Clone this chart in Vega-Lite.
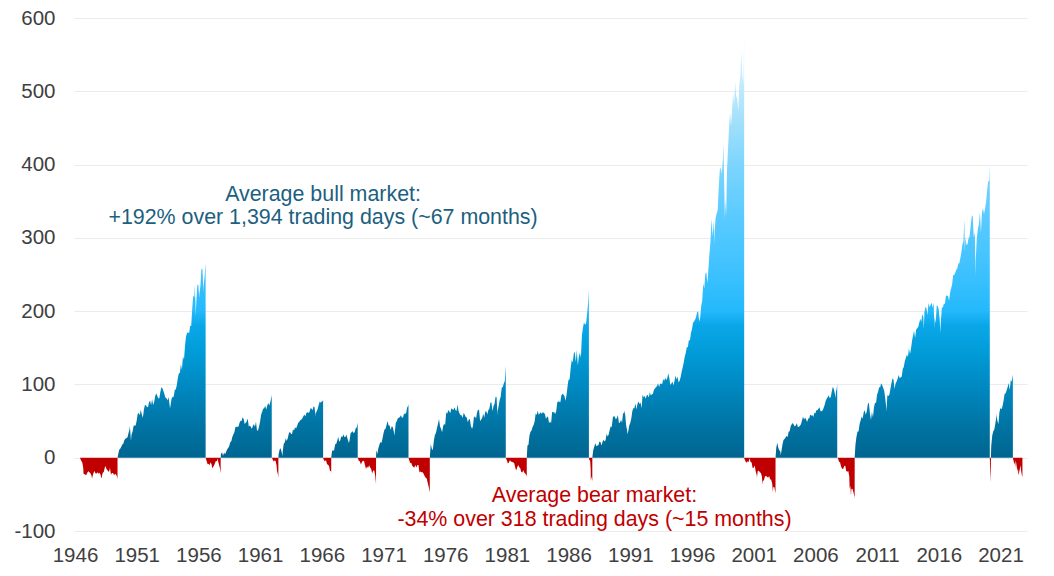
{
"$schema": "https://vega.github.io/schema/vega-lite/v6.json",
"width": 953,
"height": 513,
"autosize": {"type": "none"},
"padding": {"left": 74, "top": 18, "right": 27, "bottom": 45},
"background": "white",
"config": {"view": {"stroke": null}, "font": "Liberation Sans"},
"datasets": {
"bull": [
{"year":1949.447,"pct":0},{"year":1949.5,"pct":4.5},{"year":1949.583,"pct":11},{"year":1949.667,"pct":12.3},{"year":1949.75,"pct":15},{"year":1949.833,"pct":18},{"year":1949.917,"pct":19},{"year":1949.997,"pct":23.7},
{"year":1950.083,"pct":25.8},{"year":1950.167,"pct":27},{"year":1950.25,"pct":27.6},{"year":1950.333,"pct":33.4},{"year":1950.417,"pct":38.6},{"year":1950.447,"pct":43.2},{"year":1950.537,"pct":23.1},{"year":1950.583,"pct":31.7},{"year":1950.667,"pct":35.9},{"year":1950.75,"pct":43.5},{"year":1950.833,"pct":44.1},{"year":1950.917,"pct":44},{"year":1950.997,"pct":50.6},
{"year":1951.083,"pct":59.9},{"year":1951.167,"pct":60.9},{"year":1951.25,"pct":57.9},{"year":1951.333,"pct":65.5},{"year":1951.417,"pct":58.8},{"year":1951.5,"pct":54.7},{"year":1951.583,"pct":65.3},{"year":1951.667,"pct":71.8},{"year":1951.75,"pct":71.7},{"year":1951.833,"pct":69.3},{"year":1951.917,"pct":68.9},{"year":1951.997,"pct":75.4},
{"year":1952.083,"pct":78.2},{"year":1952.167,"pct":71.7},{"year":1952.25,"pct":79.9},{"year":1952.333,"pct":72.1},{"year":1952.417,"pct":76.1},{"year":1952.5,"pct":84.2},{"year":1952.583,"pct":87.5},{"year":1952.667,"pct":84.7},{"year":1952.75,"pct":81.1},{"year":1952.833,"pct":81},{"year":1952.917,"pct":89.4},{"year":1952.997,"pct":96.1},
{"year":1953.083,"pct":94.7},{"year":1953.167,"pct":91.1},{"year":1953.25,"pct":86.6},{"year":1953.333,"pct":81.7},{"year":1953.417,"pct":81.1},{"year":1953.5,"pct":78.2},{"year":1953.583,"pct":82.7},{"year":1953.667,"pct":72.1},{"year":1953.705,"pct":67.6},{"year":1953.75,"pct":72.3},{"year":1953.833,"pct":81.1},{"year":1953.917,"pct":82.7},{"year":1953.997,"pct":83.1},
{"year":1954.083,"pct":92.5},{"year":1954.167,"pct":93},{"year":1954.25,"pct":98.8},{"year":1954.333,"pct":108.6},{"year":1954.417,"pct":115.4},{"year":1954.5,"pct":115.6},{"year":1954.583,"pct":127.9},{"year":1954.667,"pct":120.1},{"year":1954.75,"pct":138.5},{"year":1954.833,"pct":133.8},{"year":1954.917,"pct":152.7},{"year":1954.997,"pct":165.5},
{"year":1955.083,"pct":170.3},{"year":1955.167,"pct":171.3},{"year":1955.25,"pct":170},{"year":1955.333,"pct":180.1},{"year":1955.417,"pct":179.8},{"year":1955.5,"pct":202.8},{"year":1955.583,"pct":221.2},{"year":1955.667,"pct":218.7},{"year":1955.727,"pct":236.8},{"year":1955.735,"pct":214.5},{"year":1955.75,"pct":222.3},{"year":1955.78,"pct":193.7},{"year":1955.833,"pct":212.5},{"year":1955.917,"pct":235.9},{"year":1955.997,"pct":235.6},
{"year":1956.062,"pct":218},{"year":1956.083,"pct":223.4},{"year":1956.167,"pct":234.6},{"year":1956.25,"pct":257.8},{"year":1956.333,"pct":257},{"year":1956.405,"pct":225.5},{"year":1956.417,"pct":233.6},{"year":1956.5,"pct":246.6},{"year":1956.58,"pct":264.5},{"year":1956.586,"pct":267.1},{"year":1956.588,"pct":0},
{"year":1957.805,"pct":0},{"year":1957.833,"pct":5.3},{"year":1957.917,"pct":7},{"year":1957.997,"pct":2.6},
{"year":1958.083,"pct":7},{"year":1958.167,"pct":4.8},{"year":1958.25,"pct":8},{"year":1958.333,"pct":11.4},{"year":1958.417,"pct":13.1},{"year":1958.5,"pct":16.1},{"year":1958.583,"pct":21.1},{"year":1958.667,"pct":22.5},{"year":1958.75,"pct":28.4},{"year":1958.833,"pct":31.7},{"year":1958.917,"pct":34.6},{"year":1958.997,"pct":41.6},
{"year":1959.083,"pct":42.2},{"year":1959.167,"pct":42.2},{"year":1959.25,"pct":42.2},{"year":1959.333,"pct":47.7},{"year":1959.417,"pct":50.5},{"year":1959.5,"pct":50},{"year":1959.583,"pct":55.2},{"year":1959.667,"pct":52.9},{"year":1959.75,"pct":45.9},{"year":1959.833,"pct":47.6},{"year":1959.917,"pct":49.5},{"year":1959.997,"pct":53.6},
{"year":1960.083,"pct":42.7},{"year":1960.167,"pct":44},{"year":1960.25,"pct":42},{"year":1960.333,"pct":39.5},{"year":1960.417,"pct":43.2},{"year":1960.5,"pct":46},{"year":1960.583,"pct":42.4},{"year":1960.667,"pct":49},{"year":1960.75,"pct":37.3},{"year":1960.833,"pct":37},{"year":1960.917,"pct":42.5},{"year":1960.997,"pct":49.1},
{"year":1961.083,"pct":58.5},{"year":1961.167,"pct":62.8},{"year":1961.25,"pct":66.9},{"year":1961.333,"pct":67.5},{"year":1961.417,"pct":70.8},{"year":1961.5,"pct":65.8},{"year":1961.583,"pct":71.3},{"year":1961.667,"pct":74.6},{"year":1961.75,"pct":71.2},{"year":1961.833,"pct":76},{"year":1961.917,"pct":83},{"year":1961.945,"pct":86.4},{"year":1961.947,"pct":0},
{"year":1962.482,"pct":0},{"year":1962.5,"pct":4.6},{"year":1962.583,"pct":11.3},{"year":1962.667,"pct":13},{"year":1962.75,"pct":7.5},{"year":1962.813,"pct":2.2},{"year":1962.833,"pct":8},{"year":1962.917,"pct":19},{"year":1962.997,"pct":20.6},
{"year":1963.083,"pct":26.5},{"year":1963.167,"pct":22.9},{"year":1963.25,"pct":27.2},{"year":1963.333,"pct":33.4},{"year":1963.417,"pct":35.3},{"year":1963.5,"pct":32.6},{"year":1963.583,"pct":32.1},{"year":1963.667,"pct":38.6},{"year":1963.75,"pct":37},{"year":1963.833,"pct":41.5},{"year":1963.917,"pct":40},{"year":1963.997,"pct":43.4},
{"year":1964.083,"pct":47.2},{"year":1964.167,"pct":48.7},{"year":1964.25,"pct":51},{"year":1964.333,"pct":51.9},{"year":1964.417,"pct":53.6},{"year":1964.5,"pct":56.1},{"year":1964.583,"pct":59},{"year":1964.667,"pct":56.4},{"year":1964.75,"pct":60.9},{"year":1964.833,"pct":62.2},{"year":1964.917,"pct":61.4},{"year":1964.997,"pct":62},
{"year":1965.083,"pct":67.4},{"year":1965.167,"pct":67.1},{"year":1965.25,"pct":64.7},{"year":1965.333,"pct":70.3},{"year":1965.417,"pct":69},{"year":1965.49,"pct":56},{"year":1965.5,"pct":60.8},{"year":1965.583,"pct":62.9},{"year":1965.667,"pct":66.6},{"year":1965.75,"pct":71.9},{"year":1965.833,"pct":76.6},{"year":1965.917,"pct":75.1},{"year":1965.997,"pct":76.7},
{"year":1966.083,"pct":77.5},{"year":1966.107,"pct":79.8},{"year":1966.109,"pct":0},
{"year":1966.764,"pct":0},{"year":1966.833,"pct":9.6},{"year":1966.917,"pct":9.9},{"year":1966.997,"pct":9.7},
{"year":1967.083,"pct":18.3},{"year":1967.167,"pct":18.6},{"year":1967.25,"pct":23.2},{"year":1967.333,"pct":28.4},{"year":1967.417,"pct":21.7},{"year":1967.5,"pct":23.8},{"year":1967.583,"pct":29.4},{"year":1967.667,"pct":27.9},{"year":1967.75,"pct":32.1},{"year":1967.833,"pct":28.3},{"year":1967.917,"pct":28.4},{"year":1967.997,"pct":31.8},
{"year":1968.083,"pct":26},{"year":1968.167,"pct":22.1},{"year":1968.18,"pct":19.8},{"year":1968.25,"pct":23.2},{"year":1968.333,"pct":33.3},{"year":1968.417,"pct":34.8},{"year":1968.5,"pct":36},{"year":1968.583,"pct":33.5},{"year":1968.667,"pct":35},{"year":1968.75,"pct":40.3},{"year":1968.833,"pct":41.3},{"year":1968.912,"pct":48},{"year":1968.914,"pct":0},
{"year":1970.397,"pct":0},{"year":1970.417,"pct":10.5},{"year":1970.5,"pct":5},{"year":1970.583,"pct":12.6},{"year":1970.667,"pct":17.7},{"year":1970.75,"pct":21.5},{"year":1970.833,"pct":20.1},{"year":1970.917,"pct":25.8},{"year":1970.997,"pct":33},
{"year":1971.083,"pct":38.4},{"year":1971.167,"pct":39.6},{"year":1971.25,"pct":44.8},{"year":1971.333,"pct":50},{"year":1971.417,"pct":43.8},{"year":1971.5,"pct":43.9},{"year":1971.583,"pct":37.9},{"year":1971.667,"pct":42.9},{"year":1971.75,"pct":41.9},{"year":1971.833,"pct":36},{"year":1971.896,"pct":30.1},{"year":1971.917,"pct":35.6},{"year":1971.997,"pct":47.3},
{"year":1972.083,"pct":50},{"year":1972.167,"pct":53.8},{"year":1972.25,"pct":54.7},{"year":1972.333,"pct":55.4},{"year":1972.417,"pct":58.1},{"year":1972.5,"pct":54.6},{"year":1972.583,"pct":55},{"year":1972.667,"pct":60.3},{"year":1972.75,"pct":59.5},{"year":1972.833,"pct":61},{"year":1972.917,"pct":68.4},{"year":1972.997,"pct":70.4},
{"year":1973.027,"pct":73.5},{"year":1973.029,"pct":0},
{"year":1974.753,"pct":0},{"year":1974.833,"pct":18.7},{"year":1974.917,"pct":12.3},{"year":1974.997,"pct":10.1},
{"year":1975.083,"pct":23.6},{"year":1975.167,"pct":31},{"year":1975.25,"pct":33.8},{"year":1975.333,"pct":40.2},{"year":1975.417,"pct":46.4},{"year":1975.5,"pct":52.8},{"year":1975.583,"pct":42.5},{"year":1975.667,"pct":39.5},{"year":1975.75,"pct":34.7},{"year":1975.833,"pct":43},{"year":1975.917,"pct":46.5},{"year":1975.997,"pct":44.8},
{"year":1976.083,"pct":61.9},{"year":1976.167,"pct":60.1},{"year":1976.25,"pct":65},{"year":1976.333,"pct":63.2},{"year":1976.417,"pct":60.9},{"year":1976.5,"pct":67.4},{"year":1976.583,"pct":66.1},{"year":1976.667,"pct":65.2},{"year":1976.75,"pct":69},{"year":1976.833,"pct":65.2},{"year":1976.917,"pct":63.9},{"year":1976.997,"pct":72.5},
{"year":1977.083,"pct":63.8},{"year":1977.167,"pct":60.3},{"year":1977.25,"pct":58},{"year":1977.333,"pct":58.1},{"year":1977.417,"pct":54.3},{"year":1977.5,"pct":61.3},{"year":1977.583,"pct":58.7},{"year":1977.667,"pct":55.4},{"year":1977.75,"pct":55},{"year":1977.833,"pct":48.3},{"year":1977.917,"pct":52.3},{"year":1977.997,"pct":52.7},
{"year":1978.083,"pct":43.3},{"year":1978.167,"pct":39.8},{"year":1978.18,"pct":39.5},{"year":1978.25,"pct":43.2},{"year":1978.333,"pct":55.5},{"year":1978.417,"pct":56.1},{"year":1978.5,"pct":53.4},{"year":1978.583,"pct":61.7},{"year":1978.667,"pct":65.8},{"year":1978.75,"pct":64.6},{"year":1978.833,"pct":49.6},{"year":1978.917,"pct":52.1},{"year":1978.997,"pct":54.3},
{"year":1979.083,"pct":60.5},{"year":1979.167,"pct":54.6},{"year":1979.25,"pct":63.1},{"year":1979.333,"pct":63.4},{"year":1979.417,"pct":59.1},{"year":1979.5,"pct":65.2},{"year":1979.583,"pct":66.7},{"year":1979.667,"pct":75.5},{"year":1979.75,"pct":75.5},{"year":1979.833,"pct":63.5},{"year":1979.917,"pct":70.5},{"year":1979.997,"pct":73.3},
{"year":1980.083,"pct":83.3},{"year":1980.167,"pct":82.5},{"year":1980.236,"pct":57.7},{"year":1980.25,"pct":63.9},{"year":1980.333,"pct":70.7},{"year":1980.417,"pct":78.6},{"year":1980.5,"pct":83.4},{"year":1980.583,"pct":95.4},{"year":1980.667,"pct":96.5},{"year":1980.75,"pct":101.4},{"year":1980.833,"pct":104.7},{"year":1980.91,"pct":125.6},{"year":1980.912,"pct":0},
{"year":1982.611,"pct":0},{"year":1982.667,"pct":16.7},{"year":1982.75,"pct":17.6},{"year":1982.833,"pct":30.5},{"year":1982.917,"pct":35.3},{"year":1982.997,"pct":37.3},
{"year":1983.083,"pct":41.9},{"year":1983.167,"pct":44.6},{"year":1983.25,"pct":49.3},{"year":1983.333,"pct":60.5},{"year":1983.417,"pct":58.6},{"year":1983.5,"pct":64.1},{"year":1983.583,"pct":58.7},{"year":1983.667,"pct":60.5},{"year":1983.75,"pct":62.1},{"year":1983.833,"pct":59.7},{"year":1983.917,"pct":62.5},{"year":1983.997,"pct":61},
{"year":1984.083,"pct":59.5},{"year":1984.167,"pct":53.3},{"year":1984.25,"pct":55.4},{"year":1984.333,"pct":56.3},{"year":1984.417,"pct":47},{"year":1984.5,"pct":49.6},{"year":1984.583,"pct":47.1},{"year":1984.667,"pct":62.7},{"year":1984.75,"pct":62.2},{"year":1984.833,"pct":62.2},{"year":1984.917,"pct":59.7},{"year":1984.997,"pct":63.3},
{"year":1985.083,"pct":75.4},{"year":1985.167,"pct":76.9},{"year":1985.25,"pct":76.4},{"year":1985.333,"pct":75.6},{"year":1985.417,"pct":85.1},{"year":1985.5,"pct":87.3},{"year":1985.583,"pct":86.4},{"year":1985.667,"pct":84.2},{"year":1985.75,"pct":77.8},{"year":1985.833,"pct":85.3},{"year":1985.917,"pct":97.4},{"year":1985.997,"pct":106.3},
{"year":1986.083,"pct":106.8},{"year":1986.167,"pct":121.6},{"year":1986.25,"pct":133.3},{"year":1986.333,"pct":130},{"year":1986.417,"pct":141.5},{"year":1986.5,"pct":144.9},{"year":1986.583,"pct":130.5},{"year":1986.667,"pct":147},{"year":1986.75,"pct":125.9},{"year":1986.833,"pct":138.2},{"year":1986.917,"pct":143.3},{"year":1986.997,"pct":136.4},
{"year":1987.083,"pct":167.6},{"year":1987.167,"pct":177.5},{"year":1987.25,"pct":184.8},{"year":1987.333,"pct":181.5},{"year":1987.417,"pct":183.2},{"year":1987.5,"pct":196.8},{"year":1987.583,"pct":211.1},{"year":1987.647,"pct":228.8},{"year":1987.649,"pct":0},
{"year":1987.923,"pct":0},{"year":1987.997,"pct":10.3},
{"year":1988.083,"pct":14.8},{"year":1988.167,"pct":19.6},{"year":1988.25,"pct":15.6},{"year":1988.333,"pct":16.7},{"year":1988.417,"pct":17.1},{"year":1988.5,"pct":22.1},{"year":1988.583,"pct":21.5},{"year":1988.667,"pct":16.8},{"year":1988.75,"pct":21.4},{"year":1988.833,"pct":24.6},{"year":1988.917,"pct":22.2},{"year":1988.997,"pct":24},
{"year":1989.083,"pct":32.8},{"year":1989.167,"pct":29},{"year":1989.25,"pct":31.7},{"year":1989.333,"pct":38.3},{"year":1989.417,"pct":43.1},{"year":1989.5,"pct":42},{"year":1989.583,"pct":54.6},{"year":1989.667,"pct":57},{"year":1989.75,"pct":55.9},{"year":1989.833,"pct":52},{"year":1989.917,"pct":54.5},{"year":1989.997,"pct":57.8},
{"year":1990.083,"pct":47},{"year":1990.167,"pct":48.2},{"year":1990.25,"pct":51.8},{"year":1990.333,"pct":47.7},{"year":1990.417,"pct":61.3},{"year":1990.5,"pct":59.9},{"year":1990.54,"pct":64.8},{"year":1990.583,"pct":59.1},{"year":1990.667,"pct":44},{"year":1990.75,"pct":36.7},{"year":1990.777,"pct":31.9},{"year":1990.833,"pct":35.8},{"year":1990.917,"pct":43.9},{"year":1990.997,"pct":47.5},
{"year":1991.083,"pct":53.6},{"year":1991.167,"pct":63.9},{"year":1991.25,"pct":67.6},{"year":1991.333,"pct":67.6},{"year":1991.417,"pct":74.1},{"year":1991.5,"pct":65.8},{"year":1991.583,"pct":73.2},{"year":1991.667,"pct":76.6},{"year":1991.75,"pct":73.2},{"year":1991.833,"pct":75.3},{"year":1991.917,"pct":67.6},{"year":1991.997,"pct":86.3},
{"year":1992.083,"pct":82.6},{"year":1992.167,"pct":84.3},{"year":1992.25,"pct":80.3},{"year":1992.333,"pct":85.3},{"year":1992.417,"pct":85.5},{"year":1992.5,"pct":82.3},{"year":1992.583,"pct":89.4},{"year":1992.667,"pct":84.9},{"year":1992.75,"pct":86.6},{"year":1992.833,"pct":87},{"year":1992.917,"pct":92.6},{"year":1992.997,"pct":94.6},
{"year":1993.083,"pct":96},{"year":1993.167,"pct":98},{"year":1993.25,"pct":101.7},{"year":1993.333,"pct":96.6},{"year":1993.417,"pct":101},{"year":1993.5,"pct":101.2},{"year":1993.583,"pct":100.1},{"year":1993.667,"pct":107},{"year":1993.75,"pct":105},{"year":1993.833,"pct":108.9},{"year":1993.917,"pct":106.2},{"year":1993.997,"pct":108.3},
{"year":1994.083,"pct":115.1},{"year":1994.167,"pct":108.6},{"year":1994.25,"pct":99.1},{"year":1994.333,"pct":101.4},{"year":1994.417,"pct":103.9},{"year":1994.5,"pct":98.4},{"year":1994.583,"pct":104.7},{"year":1994.667,"pct":112.3},{"year":1994.75,"pct":106.6},{"year":1994.833,"pct":110.9},{"year":1994.917,"pct":102.6},{"year":1994.997,"pct":105.1},
{"year":1995.083,"pct":110.1},{"year":1995.167,"pct":117.7},{"year":1995.25,"pct":123.6},{"year":1995.333,"pct":129.9},{"year":1995.417,"pct":138.2},{"year":1995.5,"pct":143.3},{"year":1995.583,"pct":151},{"year":1995.667,"pct":150.9},{"year":1995.75,"pct":161},{"year":1995.833,"pct":159.7},{"year":1995.917,"pct":170.3},{"year":1995.997,"pct":175.1},
{"year":1996.083,"pct":184},{"year":1996.167,"pct":186},{"year":1996.25,"pct":188.3},{"year":1996.333,"pct":192.1},{"year":1996.417,"pct":198.8},{"year":1996.5,"pct":199.5},{"year":1996.583,"pct":185.8},{"year":1996.667,"pct":191.2},{"year":1996.75,"pct":207},{"year":1996.833,"pct":215},{"year":1996.917,"pct":238.1},{"year":1996.997,"pct":230.8},
{"year":1997.083,"pct":251.1},{"year":1997.167,"pct":253.2},{"year":1997.25,"pct":238.1},{"year":1997.333,"pct":257.9},{"year":1997.417,"pct":278.8},{"year":1997.5,"pct":295.3},{"year":1997.583,"pct":326.2},{"year":1997.667,"pct":301.7},{"year":1997.75,"pct":323},{"year":1997.82,"pct":291.7},{"year":1997.833,"pct":308.5},{"year":1997.917,"pct":326.7},{"year":1997.997,"pct":333.4},
{"year":1998.083,"pct":337.8},{"year":1998.167,"pct":368.6},{"year":1998.25,"pct":392},{"year":1998.333,"pct":396.5},{"year":1998.417,"pct":387.1},{"year":1998.5,"pct":406.4},{"year":1998.545,"pct":430},{"year":1998.583,"pct":400.5},{"year":1998.665,"pct":327.5},{"year":1998.75,"pct":354.2},{"year":1998.77,"pct":328.5},{"year":1998.833,"pct":390.6},{"year":1998.917,"pct":419.7},{"year":1998.997,"pct":449},
{"year":1999.083,"pct":471.5},{"year":1999.167,"pct":453},{"year":1999.25,"pct":474.5},{"year":1999.333,"pct":496.3},{"year":1999.417,"pct":481.4},{"year":1999.5,"pct":513},{"year":1999.583,"pct":493.4},{"year":1999.667,"pct":489.7},{"year":1999.75,"pct":472.8},{"year":1999.833,"pct":508.7},{"year":1999.917,"pct":520.3},{"year":1999.997,"pct":556.2},
{"year":2000.083,"pct":522.8},{"year":2000.167,"pct":510.2},{"year":2000.229,"pct":582.1},{"year":2000.231,"pct":0},
{"year":2002.77,"pct":0},{"year":2002.833,"pct":14},{"year":2002.917,"pct":20.5},{"year":2002.997,"pct":13.3},
{"year":2003.083,"pct":10.2},{"year":2003.167,"pct":8.3},{"year":2003.192,"pct":3.1},{"year":2003.25,"pct":9.2},{"year":2003.333,"pct":18},{"year":2003.417,"pct":24.1},{"year":2003.5,"pct":25.5},{"year":2003.583,"pct":27.5},{"year":2003.667,"pct":29.8},{"year":2003.75,"pct":28.2},{"year":2003.833,"pct":35.3},{"year":2003.917,"pct":36.2},{"year":2003.997,"pct":43.1},
{"year":2004.083,"pct":45.6},{"year":2004.167,"pct":47.4},{"year":2004.25,"pct":45},{"year":2004.333,"pct":42.6},{"year":2004.417,"pct":44.3},{"year":2004.5,"pct":46.9},{"year":2004.583,"pct":41.8},{"year":2004.667,"pct":42.2},{"year":2004.75,"pct":43.5},{"year":2004.833,"pct":45.5},{"year":2004.917,"pct":51.1},{"year":2004.997,"pct":56},
{"year":2005.083,"pct":52.1},{"year":2005.167,"pct":55},{"year":2005.25,"pct":52},{"year":2005.333,"pct":48.9},{"year":2005.417,"pct":53.4},{"year":2005.5,"pct":53.4},{"year":2005.583,"pct":58.9},{"year":2005.667,"pct":57.1},{"year":2005.75,"pct":58.2},{"year":2005.833,"pct":55.4},{"year":2005.917,"pct":60.9},{"year":2005.997,"pct":60.7},
{"year":2006.083,"pct":64.8},{"year":2006.167,"pct":64.9},{"year":2006.25,"pct":66.7},{"year":2006.333,"pct":68.7},{"year":2006.417,"pct":63.5},{"year":2006.5,"pct":63.5},{"year":2006.583,"pct":64.4},{"year":2006.667,"pct":67.9},{"year":2006.75,"pct":72},{"year":2006.833,"pct":77.4},{"year":2006.917,"pct":80.3},{"year":2006.997,"pct":82.6},
{"year":2007.083,"pct":85.2},{"year":2007.167,"pct":81.1},{"year":2007.25,"pct":82.9},{"year":2007.333,"pct":90.8},{"year":2007.417,"pct":97},{"year":2007.5,"pct":93.5},{"year":2007.583,"pct":87.4},{"year":2007.622,"pct":81.1},{"year":2007.667,"pct":89.8},{"year":2007.75,"pct":96.6},{"year":2007.77,"pct":101.5},{"year":2007.772,"pct":0},
{"year":2009.184,"pct":0},{"year":2009.25,"pct":17.9},{"year":2009.333,"pct":29},{"year":2009.417,"pct":35.9},{"year":2009.5,"pct":35.9},{"year":2009.583,"pct":46},{"year":2009.667,"pct":50.9},{"year":2009.75,"pct":56.2},{"year":2009.833,"pct":53.2},{"year":2009.917,"pct":61.9},{"year":2009.997,"pct":64.8},
{"year":2010.083,"pct":58.7},{"year":2010.167,"pct":63.3},{"year":2010.25,"pct":72.9},{"year":2010.333,"pct":75.4},{"year":2010.417,"pct":61},{"year":2010.5,"pct":52.4},{"year":2010.505,"pct":51.2},{"year":2010.583,"pct":62.8},{"year":2010.667,"pct":55.1},{"year":2010.75,"pct":68.7},{"year":2010.833,"pct":74.9},{"year":2010.917,"pct":74.5},{"year":2010.997,"pct":85.9},
{"year":2011.083,"pct":90.1},{"year":2011.167,"pct":96.2},{"year":2011.25,"pct":96},{"year":2011.333,"pct":101.6},{"year":2011.417,"pct":98.8},{"year":2011.5,"pct":95.2},{"year":2011.583,"pct":91},{"year":2011.667,"pct":80.2},{"year":2011.75,"pct":67.2},{"year":2011.758,"pct":62.5},{"year":2011.833,"pct":85.3},{"year":2011.917,"pct":84.3},{"year":2011.997,"pct":85.9},
{"year":2012.083,"pct":94},{"year":2012.167,"pct":101.9},{"year":2012.25,"pct":108.2},{"year":2012.333,"pct":106.6},{"year":2012.417,"pct":93.7},{"year":2012.5,"pct":101.3},{"year":2012.583,"pct":103.9},{"year":2012.667,"pct":107.9},{"year":2012.75,"pct":113},{"year":2012.833,"pct":108.7},{"year":2012.917,"pct":109.3},{"year":2012.997,"pct":110.8},
{"year":2013.083,"pct":121.4},{"year":2013.167,"pct":123.9},{"year":2013.25,"pct":131.9},{"year":2013.333,"pct":136.1},{"year":2013.417,"pct":141},{"year":2013.5,"pct":137.4},{"year":2013.583,"pct":149.2},{"year":2013.667,"pct":141.4},{"year":2013.75,"pct":148.6},{"year":2013.833,"pct":159.6},{"year":2013.917,"pct":166.9},{"year":2013.997,"pct":173.2},
{"year":2014.083,"pct":163.5},{"year":2014.167,"pct":174.9},{"year":2014.25,"pct":176.8},{"year":2014.333,"pct":178.5},{"year":2014.417,"pct":184.3},{"year":2014.5,"pct":189.7},{"year":2014.583,"pct":185.4},{"year":2014.667,"pct":196.1},{"year":2014.75,"pct":191.5},{"year":2014.791,"pct":175.3},{"year":2014.833,"pct":198.3},{"year":2014.917,"pct":205.6},{"year":2014.997,"pct":204.3},
{"year":2015.083,"pct":194.9},{"year":2015.167,"pct":211.1},{"year":2015.25,"pct":205.7},{"year":2015.333,"pct":208.3},{"year":2015.417,"pct":211.5},{"year":2015.5,"pct":205},{"year":2015.583,"pct":211},{"year":2015.652,"pct":176.1},{"year":2015.667,"pct":191.5},{"year":2015.75,"pct":183.8},{"year":2015.833,"pct":207.4},{"year":2015.917,"pct":207.5},{"year":2015.997,"pct":202.1},
{"year":2016.083,"pct":186.8},{"year":2016.113,"pct":170.4},{"year":2016.167,"pct":185.6},{"year":2016.25,"pct":204.5},{"year":2016.333,"pct":205.3},{"year":2016.417,"pct":210},{"year":2016.5,"pct":210.2},{"year":2016.583,"pct":221.3},{"year":2016.667,"pct":220.9},{"year":2016.75,"pct":220.5},{"year":2016.833,"pct":214.3},{"year":2016.917,"pct":225},{"year":2016.997,"pct":230.9},
{"year":2017.083,"pct":236.8},{"year":2017.167,"pct":249.4},{"year":2017.25,"pct":249.2},{"year":2017.333,"pct":252.4},{"year":2017.417,"pct":256.5},{"year":2017.5,"pct":258.2},{"year":2017.583,"pct":265.1},{"year":2017.667,"pct":265.3},{"year":2017.75,"pct":272.4},{"year":2017.833,"pct":280.7},{"year":2017.917,"pct":291.4},{"year":2017.997,"pct":295.2},
{"year":2018.071,"pct":324.7},{"year":2018.083,"pct":317.4},{"year":2018.105,"pct":281.5},{"year":2018.167,"pct":301.1},{"year":2018.25,"pct":290.4},{"year":2018.333,"pct":291.4},{"year":2018.417,"pct":299.9},{"year":2018.5,"pct":301.8},{"year":2018.583,"pct":316.3},{"year":2018.667,"pct":328.9},{"year":2018.75,"pct":330.7},{"year":2018.833,"pct":300.8},{"year":2018.917,"pct":308},{"year":2018.983,"pct":247.5},{"year":2018.997,"pct":270.5},
{"year":2019.083,"pct":299.7},{"year":2019.167,"pct":311.6},{"year":2019.25,"pct":319},{"year":2019.333,"pct":335.4},{"year":2019.417,"pct":306.8},{"year":2019.5,"pct":334.8},{"year":2019.583,"pct":340.5},{"year":2019.667,"pct":332.6},{"year":2019.75,"pct":340},{"year":2019.833,"pct":349},{"year":2019.917,"pct":364.3},{"year":2019.997,"pct":377.6},
{"year":2020.083,"pct":376.8},{"year":2020.134,"pct":400.5},{"year":2020.136,"pct":0},
{"year":2020.224,"pct":0},{"year":2020.25,"pct":15.5},{"year":2020.333,"pct":30.2},{"year":2020.417,"pct":36.1},{"year":2020.5,"pct":38.6},{"year":2020.583,"pct":46.2},{"year":2020.667,"pct":56.4},{"year":2020.672,"pct":60},{"year":2020.75,"pct":50.3},{"year":2020.833,"pct":46.1},{"year":2020.917,"pct":61.9},{"year":2020.997,"pct":67.9},
{"year":2021.083,"pct":66},{"year":2021.167,"pct":70.3},{"year":2021.25,"pct":77.6},{"year":2021.333,"pct":86.9},{"year":2021.417,"pct":87.9},{"year":2021.5,"pct":92.1},{"year":2021.583,"pct":96.4},{"year":2021.667,"pct":102.1},{"year":2021.75,"pct":92.5},{"year":2021.833,"pct":105.8},{"year":2021.917,"pct":104.1},{"year":2021.997,"pct":113},
{"year":2022.005,"pct":114.4},{"year":2022.007,"pct":0}
],
"bear": [
{"year":1946.405,"pct":0},{"year":1946.5,"pct":-4.3},{"year":1946.583,"pct":-6.2},{"year":1946.667,"pct":-13.3},{"year":1946.693,"pct":-22},{"year":1946.75,"pct":-22.3},{"year":1946.833,"pct":-23.4},{"year":1946.917,"pct":-23.7},{"year":1946.997,"pct":-20.5},
{"year":1947.083,"pct":-18.6},{"year":1947.167,"pct":-20},{"year":1947.25,"pct":-21.2},{"year":1947.333,"pct":-24.2},{"year":1947.385,"pct":-28.8},{"year":1947.417,"pct":-25.5},{"year":1947.5,"pct":-21},{"year":1947.583,"pct":-18.1},{"year":1947.667,"pct":-21.5},{"year":1947.75,"pct":-21.5},{"year":1947.833,"pct":-19.7},{"year":1947.917,"pct":-21.8},{"year":1947.997,"pct":-20.5},
{"year":1948.083,"pct":-23.7},{"year":1948.122,"pct":-28.1},{"year":1948.167,"pct":-26.8},{"year":1948.25,"pct":-20.4},{"year":1948.333,"pct":-19.6},{"year":1948.417,"pct":-13.3},{"year":1948.457,"pct":-11.4},{"year":1948.5,"pct":-13},{"year":1948.583,"pct":-16.4},{"year":1948.667,"pct":-17.9},{"year":1948.75,"pct":-19.5},{"year":1948.833,"pct":-14.1},{"year":1948.917,"pct":-23.4},{"year":1948.997,"pct":-21},
{"year":1949.083,"pct":-20.9},{"year":1949.167,"pct":-24},{"year":1949.25,"pct":-21.8},{"year":1949.333,"pct":-23.4},{"year":1949.417,"pct":-26.4},{"year":1949.447,"pct":-29.6},{"year":1949.449,"pct":0},
{"year":1956.586,"pct":0},{"year":1956.667,"pct":-4.5},{"year":1956.75,"pct":-8.8},{"year":1956.833,"pct":-8.4},{"year":1956.91,"pct":-10.8},{"year":1956.917,"pct":-9.4},{"year":1956.997,"pct":-6.2},{"year":1957.083,"pct":-10.1},{"year":1957.115,"pct":-14.8},{"year":1957.167,"pct":-13},{"year":1957.25,"pct":-11.3},{"year":1957.333,"pct":-8},{"year":1957.417,"pct":-4.6},{"year":1957.5,"pct":-4.8},{"year":1957.537,"pct":-1.2},{"year":1957.583,"pct":-3.7},{"year":1957.667,"pct":-9.1},{"year":1957.75,"pct":-14.7},{"year":1957.805,"pct":-21.6},{"year":1957.807,"pct":0},
{"year":1961.945,"pct":0},{"year":1961.997,"pct":-1.5},{"year":1962.083,"pct":-5.2},{"year":1962.167,"pct":-3.7},{"year":1962.25,"pct":-4.3},{"year":1962.333,"pct":-10.2},{"year":1962.404,"pct":-23.6},{"year":1962.417,"pct":-17.9},{"year":1962.482,"pct":-28},{"year":1962.484,"pct":0},
{"year":1966.107,"pct":0},{"year":1966.167,"pct":-3},{"year":1966.25,"pct":-5.1},{"year":1966.333,"pct":-3.2},{"year":1966.417,"pct":-8.4},{"year":1966.5,"pct":-9.9},{"year":1966.583,"pct":-11.1},{"year":1966.667,"pct":-18},{"year":1966.75,"pct":-18.6},{"year":1966.764,"pct":-22.2},{"year":1966.766,"pct":0},
{"year":1968.912,"pct":0},{"year":1968.997,"pct":-4.2},{"year":1969.083,"pct":-4.9},{"year":1969.167,"pct":-9.4},{"year":1969.25,"pct":-6.3},{"year":1969.333,"pct":-4.3},{"year":1969.417,"pct":-4.5},{"year":1969.5,"pct":-9.8},{"year":1969.583,"pct":-15.3},{"year":1969.667,"pct":-11.9},{"year":1969.75,"pct":-14.1},{"year":1969.833,"pct":-10.3},{"year":1969.917,"pct":-13.4},{"year":1969.997,"pct":-15},{"year":1970.083,"pct":-21.5},{"year":1970.167,"pct":-17.4},{"year":1970.25,"pct":-17.3},{"year":1970.333,"pct":-24.8},{"year":1970.397,"pct":-36.1},{"year":1970.399,"pct":0},
{"year":1973.027,"pct":0},{"year":1973.083,"pct":-3.5},{"year":1973.167,"pct":-7.1},{"year":1973.25,"pct":-7.3},{"year":1973.333,"pct":-11},{"year":1973.417,"pct":-12.7},{"year":1973.5,"pct":-13.3},{"year":1973.583,"pct":-10},{"year":1973.667,"pct":-13.3},{"year":1973.75,"pct":-9.8},{"year":1973.833,"pct":-9.9},{"year":1973.917,"pct":-20.2},{"year":1973.997,"pct":-18.9},{"year":1974.083,"pct":-19.7},{"year":1974.167,"pct":-20},{"year":1974.25,"pct":-21.8},{"year":1974.333,"pct":-24.9},{"year":1974.417,"pct":-27.4},{"year":1974.5,"pct":-28.5},{"year":1974.583,"pct":-34},{"year":1974.667,"pct":-40},{"year":1974.75,"pct":-47.2},{"year":1974.753,"pct":-48.2},{"year":1974.755,"pct":0},
{"year":1980.91,"pct":0},{"year":1980.997,"pct":-3.4},{"year":1981.083,"pct":-7.8},{"year":1981.167,"pct":-6.6},{"year":1981.25,"pct":-3.2},{"year":1981.333,"pct":-5.5},{"year":1981.417,"pct":-5.6},{"year":1981.5,"pct":-6.6},{"year":1981.583,"pct":-6.8},{"year":1981.667,"pct":-12.6},{"year":1981.75,"pct":-17.3},{"year":1981.833,"pct":-13.3},{"year":1981.917,"pct":-10.1},{"year":1981.997,"pct":-12.8},{"year":1982.083,"pct":-14.3},{"year":1982.167,"pct":-19.5},{"year":1982.25,"pct":-20.3},{"year":1982.333,"pct":-17.1},{"year":1982.417,"pct":-20.4},{"year":1982.5,"pct":-22},{"year":1982.583,"pct":-23.8},{"year":1982.611,"pct":-27.1},{"year":1982.613,"pct":0},
{"year":1987.647,"pct":0},{"year":1987.664,"pct":-2.1},{"year":1987.75,"pct":-4.4},{"year":1987.792,"pct":-16.1},{"year":1987.8,"pct":-33.2},{"year":1987.83,"pct":-25.2},{"year":1987.917,"pct":-31.6},{"year":1987.923,"pct":-33.5},{"year":1987.925,"pct":0},
{"year":2000.229,"pct":0},{"year":2000.25,"pct":-1.9},{"year":2000.333,"pct":-4.9},{"year":2000.417,"pct":-7},{"year":2000.5,"pct":-4.8},{"year":2000.583,"pct":-6.3},{"year":2000.667,"pct":-0.6},{"year":2000.75,"pct":-6},{"year":2000.833,"pct":-6.4},{"year":2000.917,"pct":-13.9},{"year":2000.997,"pct":-13.6},{"year":2001.083,"pct":-10.6},{"year":2001.167,"pct":-18.8},{"year":2001.25,"pct":-24},{"year":2001.259,"pct":-27.8},{"year":2001.333,"pct":-18.2},{"year":2001.417,"pct":-17.8},{"year":2001.5,"pct":-19.8},{"year":2001.583,"pct":-20.7},{"year":2001.667,"pct":-25.8},{"year":2001.724,"pct":-36.8},{"year":2001.75,"pct":-31.9},{"year":2001.833,"pct":-30.6},{"year":2001.917,"pct":-25.4},{"year":2001.997,"pct":-24.8},{"year":2002.083,"pct":-26},{"year":2002.167,"pct":-27.5},{"year":2002.25,"pct":-24.9},{"year":2002.333,"pct":-29.5},{"year":2002.417,"pct":-30.1},{"year":2002.5,"pct":-35.2},{"year":2002.56,"pct":-47.8},{"year":2002.583,"pct":-40.3},{"year":2002.667,"pct":-40},{"year":2002.75,"pct":-46.6},{"year":2002.77,"pct":-49.1},{"year":2002.772,"pct":0},
{"year":2007.77,"pct":0},{"year":2007.833,"pct":-1},{"year":2007.917,"pct":-5.4},{"year":2007.997,"pct":-6.2},{"year":2008.083,"pct":-11.9},{"year":2008.167,"pct":-15},{"year":2008.25,"pct":-15.5},{"year":2008.333,"pct":-11.5},{"year":2008.417,"pct":-10.5},{"year":2008.5,"pct":-18.2},{"year":2008.583,"pct":-19},{"year":2008.667,"pct":-18},{"year":2008.75,"pct":-25.5},{"year":2008.777,"pct":-42.5},{"year":2008.833,"pct":-38.1},{"year":2008.888,"pct":-51.9},{"year":2008.917,"pct":-42.7},{"year":2008.997,"pct":-42.3},{"year":2009.083,"pct":-47.2},{"year":2009.167,"pct":-53},{"year":2009.184,"pct":-56.8},{"year":2009.186,"pct":0},
{"year":2020.134,"pct":0},{"year":2020.162,"pct":-12.8},{"year":2020.197,"pct":-26.7},{"year":2020.2,"pct":-19.9},{"year":2020.208,"pct":-29.5},{"year":2020.224,"pct":-33.9},{"year":2020.226,"pct":0},
{"year":2022.005,"pct":0},{"year":2022.083,"pct":-5.9},{"year":2022.167,"pct":-8.8},{"year":2022.186,"pct":-13},{"year":2022.24,"pct":-3.4},{"year":2022.333,"pct":-13.9},{"year":2022.385,"pct":-18.7},{"year":2022.417,"pct":-13.9},{"year":2022.456,"pct":-23.6},{"year":2022.5,"pct":-21.1},{"year":2022.583,"pct":-13.9},{"year":2022.624,"pct":-10.2},{"year":2022.667,"pct":-17.5},{"year":2022.75,"pct":-25.2},{"year":2022.778,"pct":-25.4},{"year":2022.78,"pct":0}
],
"notes": [
{"year":1966.1,"pct":350.9,"label":"Average bull market:","market":"bull"},
{"year":1966.1,"pct":319.1,"label":"+192% over 1,394 trading days (~67 months)","market":"bull"},
{"year":1988.1,"pct":-61,"label":"Average bear market:","market":"bear"},
{"year":1988.1,"pct":-93,"label":"-34% over 318 trading days (~15 months)","market":"bear"}
]
},
"encoding": {
"x": {"field": "year", "type": "quantitative",
  "scale": {"domain": [1945.92, 2023.15], "nice": false, "zero": false},
  "axis": {"values": [1946,1951,1956,1961,1966,1971,1976,1981,1986,1991,1996,2001,2006,2011,2016,2021], "format": "d", "title": null, "grid": false, "domain": false, "ticks": false, "tickSize": 0, "labelFlush": false, "labelOverlap": false, "labelBound": false, "labelFont": "Liberation Sans", "labelFontSize": 20.5, "labelColor": "#404040", "labelPadding": 14}},
"y": {"field": "pct", "type": "quantitative",
  "scale": {"domain": [-100, 600], "nice": false, "zero": false},
  "axis": {"values": [-100,0,100,200,300,400,500,600], "labelExpr": "'' + datum.value", "title": null, "grid": true, "gridColor": "#EBEBEB", "gridWidth": 1, "domain": false, "ticks": false, "tickSize": 0, "labelFont": "Liberation Sans", "labelFontSize": 20.5, "labelColor": "#404040", "labelPadding": 19}}
},
"layer": [
{"data": {"name": "bull"},
 "mark": {"type": "area", "interpolate": "linear", "stroke": null,
  "fill": {"gradient": "linear", "x1": 0, "y1": 0, "x2": 0, "y2": 1,
   "stops": [
    {"offset": 0, "color": "#F2FBFF"},
    {"offset": 0.07, "color": "#D4F1FF"},
    {"offset": 0.21, "color": "#A3E0FB"},
    {"offset": 0.31, "color": "#7DD5FD"},
    {"offset": 0.44, "color": "#59CAFF"},
    {"offset": 0.57, "color": "#3CC1FF"},
    {"offset": 0.655, "color": "#24B9FC"},
    {"offset": 0.69, "color": "#0AA7E8"},
    {"offset": 0.76, "color": "#009AD6"},
    {"offset": 0.83, "color": "#0089C2"},
    {"offset": 0.915, "color": "#0076A6"},
    {"offset": 1, "color": "#006590"}]}},
 "encoding": {"y2": {"datum": 0}}},
{"data": {"name": "bear"},
 "mark": {"type": "area", "interpolate": "linear", "fill": "#C00000", "stroke": null},
 "encoding": {"y2": {"datum": 0}}},
{"data": {"name": "notes"},
 "mark": {"type": "text", "font": "Liberation Sans", "fontSize": 21.4, "align": "center", "baseline": "alphabetic"},
 "encoding": {"text": {"field": "label"},
  "color": {"field": "market", "type": "nominal", "scale": {"domain": ["bull", "bear"], "range": ["#1D5F80", "#C00000"]}, "legend": null}}}
]
}
